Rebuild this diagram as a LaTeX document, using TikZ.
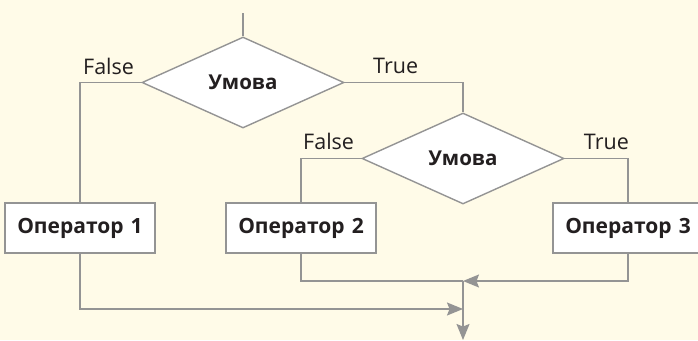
\documentclass[tikz,border=0pt]{standalone}
\usepackage{fontspec}
\setmainfont{Open Sans}
\usepackage{tikz}
\usetikzlibrary{arrows.meta,shapes.geometric}
\definecolor{paper}{RGB}{255,251,232}
\definecolor{wire}{RGB}{148,148,148}
\definecolor{ink}{RGB}{35,31,32}
\tikzset{
	cond/.style={diamond, draw=wire, fill=white, line width=1.4pt, aspect=2.2,
		minimum width=202pt, minimum height=91pt, inner sep=0pt,
		font=\fontsize{20.5}{24}\selectfont\bfseries, text=ink},
	oper/.style={rectangle, draw=wire, fill=white, line width=1.4pt,
		minimum width=150pt, minimum height=50pt, inner sep=0pt,
		font=\fontsize{21}{24}\selectfont\bfseries, text=ink},
	lbl/.style={inner sep=0pt, font=\fontsize{21.5}{24}\selectfont, text=ink},
	wireline/.style={draw=wire, line width=1.4pt},
	arr/.style={wireline, -{Stealth[length=16pt, width=13pt, inset=2.5pt]}}
}
\begin{document}
\begin{tikzpicture}[x=1pt, y=-1pt]
		\fill[paper] (0,0) rectangle (698,340);
		\useasboundingbox (0,0) rectangle (698,340);
		%%  Conditions  %%%%%%%%
		\coordinate (start) at (243,13);
		\node[cond] (cond1) at (243,82.5) {Умова};
		\node[cond] (cond2) at (463,158.5) {Умова};
		%%  Operators  %%%%%%%%
		\node[oper] (op1) at (80,228) {Оператор\,\,1};
		\node[oper] (op2) at (301,228) {Оператор\,\,2};
		\node[oper] (op3) at (628,228) {Оператор\,\,3};
		%%  Branch lines  %%%%%%%%
		\draw[wireline] (start) -- (cond1.north);
		\draw[wireline] (cond1.west) -| (op1.north);
		\draw[wireline] (cond1.east) -| (cond2.north);
		\draw[wireline] (cond2.west) -| (op2.north);
		\draw[wireline] (cond2.east) -| (op3.north);
		%%  Labels  %%%%%%%%
		\node[lbl, anchor=base west] (f1) at (83,74) {False};
		\node[lbl, anchor=base west] (t1) at (373,73) {True};
		\node[lbl, anchor=base west] (f2) at (303,149) {False};
		\node[lbl, anchor=base east] (t2) at (629,149) {True};
		%%  Merge  %%%%%%%%
		\coordinate (join) at (463,281);
		\coordinate (join1) at (463,309);
		\coordinate (out) at (463,340);
		\draw[wireline] (op2.south) |- (join);
		\draw[arr] (op3.south) |- (join);
		\draw[arr] (op1.south) |- (join1);
		\draw[arr] (join) -- (out);
		%%%%%%%%%%%%%%%
	\end{tikzpicture}
\end{document}
